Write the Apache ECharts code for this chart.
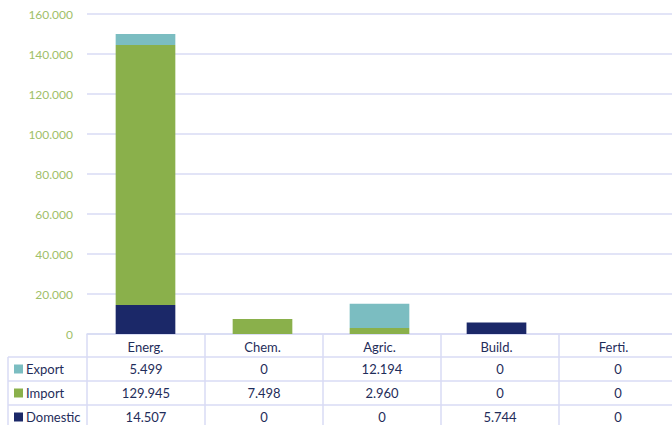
<!DOCTYPE html>
<html><head><meta charset="utf-8">
<script src="https://cdn.jsdelivr.net/npm/echarts@6/dist/echarts.min.js"></script>
<style>html,body{margin:0;padding:0;background:#fff}#c{width:672px;height:425px}</style>
</head><body><div id="c"></div>
<script>
var categories = ['Energ.', 'Chem.', 'Agric.', 'Build.', 'Ferti.'];
var exportVals = [5499, 0, 12194, 0, 0];
var importVals = [129945, 7498, 2960, 0, 0];
var domesticVals = [14507, 0, 0, 5744, 0];
var seriesNames = ['Export', 'Import', 'Domestic'];
var yTicks = [0, 20000, 40000, 60000, 80000, 100000, 120000, 140000, 160000];

(function () {
var colors = {Export: '#7bbdc1', Import: '#8ab04b', Domestic: '#1b2868'};
var rowsData = {Export: exportVals, Import: importVals, Domestic: domesticVals};

function fmt(v) {
  return String(v).replace(/\B(?=(\d{3})+(?!\d))/g, '.');
}

var L = 87, colW = 118, gridTop = 14, zeroY = 334, rowH = 24, labelX = 8;
var lineColor = '#d8dbf4', textColor = '#1f2d5a';
var font = 'Lato, "Open Sans", sans-serif';

var chart = echarts.init(document.getElementById('c'), null, {renderer: 'svg'});

var graphics = [];
for (var r = 1; r <= 4; r++) {
  var y = zeroY + 23 + (r - 1) * rowH;
  graphics.push({type: 'line', shape: {x1: labelX, y1: y, x2: 680, y2: y}, style: {stroke: lineColor, lineWidth: 1.5}, silent: true});
}
for (var i = 0; i <= categories.length; i++) {
  var x = L + i * colW;
  graphics.push({type: 'line', shape: {x1: x, y1: zeroY, x2: x, y2: 440}, style: {stroke: lineColor, lineWidth: 1.5}, silent: true});
}
graphics.push({type: 'line', shape: {x1: labelX, y1: zeroY + 23, x2: labelX, y2: 440}, style: {stroke: lineColor, lineWidth: 1.5}, silent: true});

seriesNames.forEach(function (name, ri) {
  var cy = zeroY + 23 + ri * rowH + rowH / 2;
  graphics.push({type: 'rect', shape: {x: 14, y: cy - 4.5, width: 9, height: 9}, style: {fill: colors[name]}, silent: true});
  graphics.push({type: 'text', x: 26, y: cy, style: {text: name, fill: textColor, font: '13px ' + font, verticalAlign: 'middle', align: 'left'}, silent: true});
  rowsData[name].forEach(function (v, ci) {
    graphics.push({type: 'text', x: L + ci * colW + colW / 2, y: cy, style: {text: fmt(v), fill: textColor, font: '13px ' + font, verticalAlign: 'middle', align: 'center'}, silent: true});
  });
});

function barSeries(name, data) {
  return {
    name: name, type: 'bar', stack: 'total', data: data, barWidth: '51%',
    itemStyle: {color: colors[name]}, silent: true
  };
}

chart.setOption({
  animation: false,
  grid: {left: L, top: gridTop, width: colW * categories.length, bottom: 425 - zeroY, containLabel: false},
  xAxis: {
    type: 'category', data: categories,
    axisLine: {show: true, lineStyle: {color: lineColor, width: 1.5}},
    axisTick: {show: false},
    axisLabel: {color: textColor, fontSize: 13, fontFamily: font, margin: 6}
  },
  yAxis: {
    type: 'value', min: 0, max: 160000, interval: 20000,
    axisLine: {show: false}, axisTick: {show: false},
    splitLine: {lineStyle: {color: lineColor, width: 1.5}},
    axisLabel: {color: '#9fc06a', fontSize: 12, fontFamily: font, margin: 14,
      formatter: function (v) { return yTicks.indexOf(v) >= 0 ? fmt(v) : ''; }}
  },
  series: [
    barSeries('Domestic', domesticVals),
    barSeries('Import', importVals),
    barSeries('Export', exportVals)
  ],
  graphic: graphics
});
})();
</script></body></html>
